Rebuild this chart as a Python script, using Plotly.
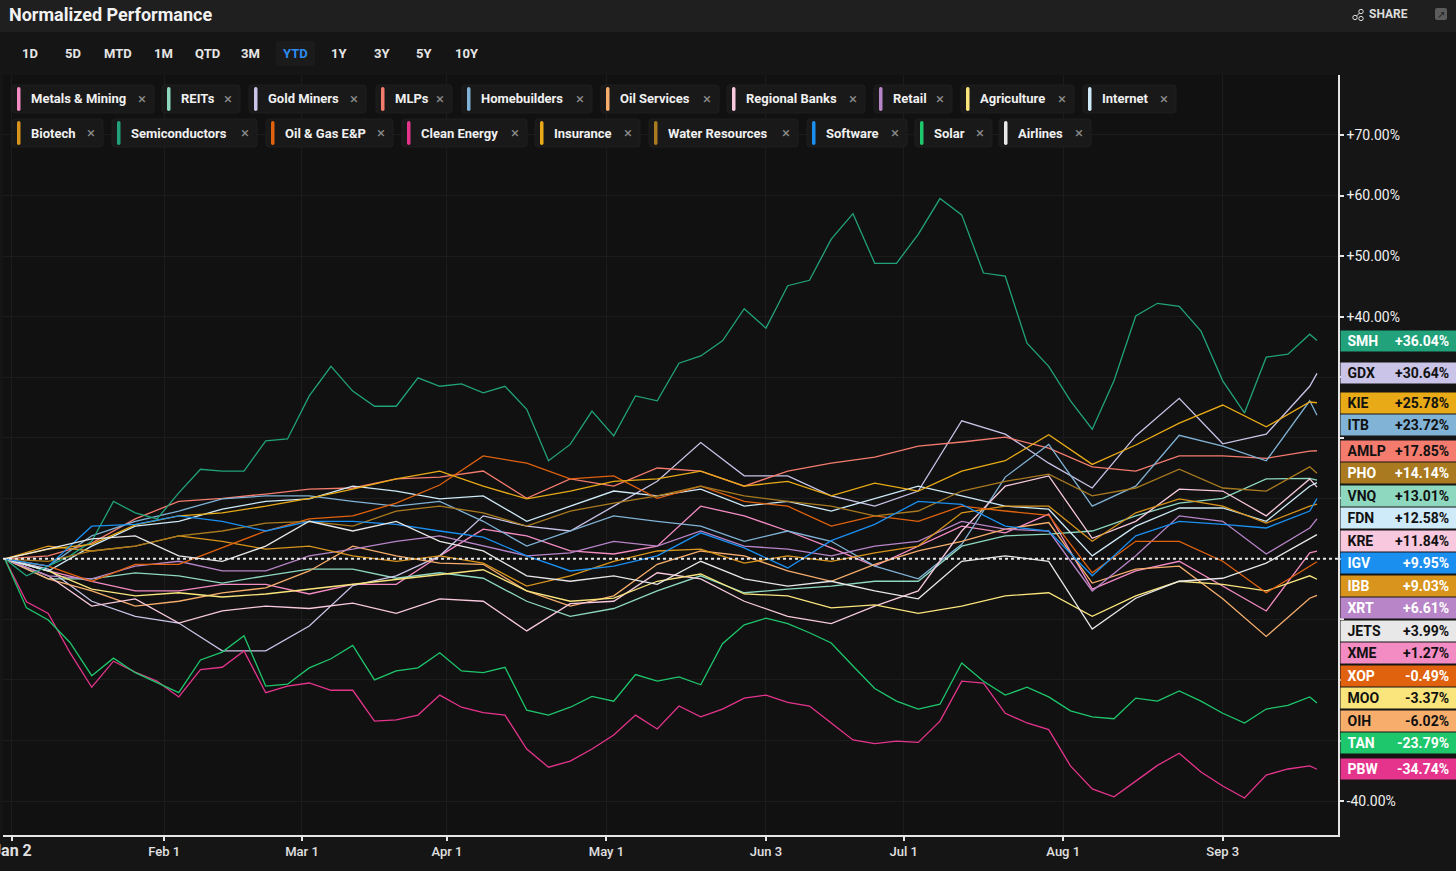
import plotly.graph_objects as go

# ---------------- data ----------------
# trading-day index (0 = Jan 2, -1 = Dec 29 base)
days_fine = list(range(-1, 180, 3)) + [180]
days_coarse = list(range(-1, 180, 6)) + [180]

tick_days = [0, 21, 40, 60, 82, 104, 123, 145, 167]
tick_labels = ["Jan 2", "Feb 1", "Mar 1", "Apr 1", "May 1", "Jun 3", "Jul 1", "Aug 1", "Sep 3"]
y_ticks = [-40, -30, -20, -10, 0, 10, 20, 30, 40, 50, 60, 70]

smh = [0, -2.8, -1.2, 0.5, 2.9, 9.5, 7.6, 6.6, 10.9, 14.8, 14.5, 14.5, 19.5, 19.8, 26.9, 31.8,
       27.7, 25.2, 25.2, 29.9, 28.5, 28.9, 27.4, 28.5, 24.7, 16.2, 18.9, 24.4, 20.3, 26.9, 26.1,
       32.3, 33.5, 36.0, 41.3, 38.1, 45.1, 46.0, 52.8, 57.0, 48.8, 48.8, 53.6, 59.5, 56.8, 47.2,
       46.7, 35.6, 31.8, 26.1, 21.4, 29.4, 40.1, 42.2, 41.7, 37.6, 29.4, 24.1, 33.3, 33.8, 37.1, 36.04]
pbw = [0, -7.1, -9.0, -15.5, -21.2, -16.9, -18.7, -20.2, -22.8, -18.3, -17.9, -15.2, -22.1, -21.0,
       -20.5, -21.7, -21.7, -26.8, -26.6, -25.8, -22.5, -24.5, -25.4, -25.8, -31.4, -34.4, -33.4,
       -31.4, -29.1, -25.8, -28.1, -24.3, -26.1, -24.8, -23.0, -22.5, -23.7, -24.3, -27.1, -29.9,
       -30.5, -30.1, -30.3, -26.8, -20.2, -20.5, -25.5, -27.1, -28.2, -34.2, -38.0, -39.3, -36.7,
       -34.1, -32.1, -35.2, -37.5, -39.5, -35.7, -34.7, -34.2, -34.74]
tan = [0, -8.1, -10.1, -13.8, -19.3, -16.4, -18.8, -20.5, -22.1, -16.7, -15.4, -12.7, -21.0, -20.7,
       -18.0, -16.5, -14.3, -20.0, -18.5, -18.0, -15.5, -18.5, -18.8, -17.9, -25.0, -25.8, -24.5,
       -22.7, -23.5, -19.1, -20.2, -19.5, -20.8, -14.0, -10.9, -9.8, -10.7, -12.2, -13.9, -17.7,
       -21.4, -23.5, -24.8, -24.0, -17.2, -20.2, -22.5, -21.2, -22.8, -25.1, -26.1, -26.4, -23.0,
       -23.5, -21.8, -23.5, -25.5, -27.1, -24.8, -24.2, -22.8, -23.79]

gdx = [0, -1.7, -7.0, -9.5, -10.6, -15.2, -15.2, -11.1, -4.4, -2.8, 0.5, 7.1, 5.4, 4.6, 8.7, 12.8,
       19.2, 13.7, 13.7, 10.4, 8.7, 11.2, 22.8, 20.6, 15.8, 11.7, 20.3, 26.5, 19.0, 20.6, 28.5, 30.64]
kie = [0, 1.6, 2.4, 5.6, 7.1, 7.6, 8.7, 10.0, 11.5, 13.2, 14.5, 12.0, 9.9, 11.2, 12.8, 13.2,
       14.5, 12.0, 12.8, 10.4, 12.5, 11.2, 14.5, 16.2, 20.5, 15.6, 18.8, 22.4, 25.4, 21.8, 25.9, 25.78]
itb = [0, -1.2, 3.8, 6.2, 7.9, 9.9, 10.4, 10.4, 9.5, 8.7, 9.5, 6.2, 2.1, 4.6, 7.1, 6.2,
       5.4, 2.9, 4.6, 2.9, -1.2, -3.3, 2.4, 13.5, 18.9, 8.7, 12.0, 20.4, 18.6, 16.2, 26.1, 23.72]
amlp = [0, 0.5, 2.6, 6.6, 9.5, 10.0, 10.7, 11.5, 11.7, 13.2, 13.5, 14.5, 10.0, 13.2, 12.0, 15.0,
        14.5, 12.0, 14.5, 15.8, 16.8, 18.6, 19.3, 20.1, 18.3, 15.2, 14.5, 17.0, 17.0, 16.6, 17.8, 17.85]
pho = [0, -0.4, 1.3, 2.1, 3.8, 4.6, 5.9, 6.2, 5.4, 7.9, 8.7, 7.6, 5.4, 7.9, 9.2, 10.4,
       12.0, 10.4, 9.5, 8.7, 7.1, 7.9, 11.2, 12.8, 14.0, 10.4, 11.7, 14.8, 11.7, 11.2, 15.2, 14.14]
vnq = [0, -3.3, -3.3, -2.3, -2.8, -4.0, -2.8, -1.7, -1.7, -3.2, -2.3, -3.2, -7.0, -9.5, -8.2, -5.3,
       -2.8, -5.6, -5.0, -4.5, -3.7, -3.7, 2.1, 3.8, 4.1, 4.6, 7.1, 9.2, 10.0, 13.2, 13.3, 13.01]
fdn = [0, -2.0, 2.1, 5.4, 6.2, 8.2, 9.5, 9.9, 12.0, 11.2, 9.9, 10.4, 6.2, 8.7, 11.2, 10.4,
       11.5, 8.7, 9.5, 7.9, 10.0, 12.0, 10.4, 8.7, 8.2, 0.5, 5.4, 8.4, 8.4, 6.2, 12.0, 12.58]
kre = [0, -2.8, -7.8, -6.6, -10.6, -8.6, -7.8, -8.2, -7.3, -9.0, -6.6, -7.0, -11.9, -7.4, -7.0, -2.3,
       -3.3, -7.0, -9.5, -10.7, -7.8, -5.3, 4.6, 12.0, 13.7, 3.4, 6.2, 11.5, 11.2, 7.1, 13.2, 11.84]
igv = [0, -1.2, 5.4, 5.7, 7.1, 6.2, 4.6, 6.2, 6.2, 5.7, 4.6, 3.6, 0.5, -2.0, -1.2, 0.5,
       4.3, 1.8, -1.5, 3.0, 5.7, 9.5, 9.0, 5.4, 4.6, -2.8, 3.8, 6.2, 5.7, 5.1, 7.9, 9.95]
ibb = [0, 2.1, 1.3, 2.1, 3.8, 2.9, 1.6, 2.1, 0.5, -0.4, 0.5, -0.7, -4.5, -2.8, -0.4, 1.3,
       1.6, -0.7, 0.5, -0.4, 1.0, 2.1, 7.6, 8.7, 8.7, 2.9, 7.6, 9.9, 8.7, 5.9, 8.7, 9.03]
xrt = [0, -2.8, -3.3, -1.2, -0.4, -2.0, -2.0, 0.5, 1.6, 2.9, 3.8, 2.1, 0.5, 1.0, 2.9, 2.1,
       4.6, 2.1, 1.6, 0.5, 2.1, 2.9, 6.2, 4.9, 4.6, -5.3, 0.5, 7.1, 6.2, 0.8, 5.1, 6.61]
jets = [0, 1.6, 3.3, 3.8, 0.5, -0.4, 2.1, 6.2, 4.6, 6.2, 2.9, 1.3, -2.8, -3.7, -2.8, -4.2,
        -0.4, -3.3, -4.5, -3.7, -5.3, -6.6, -0.4, 0.5, -0.4, -11.6, -6.5, -3.7, -3.2, -0.7, 3.4, 3.99]
xme = [0, -2.0, -3.7, -5.3, -5.3, -4.2, -4.2, -5.8, -4.2, -4.2, 0.5, 4.9, 3.8, 1.3, 0.8, 2.1,
       8.7, 7.1, 4.6, 1.8, -1.2, 2.1, 5.4, 4.3, 7.4, -5.0, -2.0, -0.4, -4.5, -8.6, 1.0, 1.27]
xop = [0, -1.2, -3.7, -0.9, -0.9, 1.8, 4.6, 6.6, 7.1, 9.2, 12.2, 17.0, 15.8, 13.2, 13.7, 10.0,
       12.0, 9.5, 8.7, 5.4, 7.1, 6.2, 8.7, 7.9, 7.2, -2.3, 2.9, 2.9, -0.4, -5.6, -1.2, -0.49]
moo = [0, -2.0, -5.0, -6.1, -5.6, -6.3, -5.8, -5.0, -4.2, -3.3, -2.5, -1.8, -5.3, -7.0, -6.5, -3.7,
       -2.5, -5.8, -6.1, -8.1, -7.6, -9.0, -7.8, -6.1, -5.6, -9.5, -6.1, -3.7, -4.2, -5.3, -2.8, -3.37]
oih = [0, -3.3, -5.3, -7.8, -7.0, -5.6, -4.8, -2.0, 2.1, 0.5, -0.7, -0.9, -5.3, -7.8, -6.1, -0.9,
       1.3, 0.5, -2.0, -3.7, -0.9, 1.3, 2.9, 4.9, 6.0, -4.0, -1.7, -1.2, -6.6, -12.8, -6.5, -6.02]

# ticker, chip label, colour, badge text colour, days, values
series = [
    ("XME", "Metals & Mining", "#f48cc4", "#111111", days_coarse, xme),
    ("VNQ", "REITs", "#8ed8c0", "#111111", days_coarse, vnq),
    ("GDX", "Gold Miners", "#c9c4e8", "#111111", days_coarse, gdx),
    ("AMLP", "MLPs", "#f47c6e", "#111111", days_coarse, amlp),
    ("ITB", "Homebuilders", "#80b3d6", "#111111", days_coarse, itb),
    ("OIH", "Oil Services", "#f7ae6d", "#111111", days_coarse, oih),
    ("KRE", "Regional Banks", "#f8c9de", "#111111", days_coarse, kre),
    ("XRT", "Retail", "#b885c8", "#ffffff", days_coarse, xrt),
    ("MOO", "Agriculture", "#fae57c", "#111111", days_coarse, moo),
    ("FDN", "Internet", "#cfeaf8", "#111111", days_coarse, fdn),
    ("IBB", "Biotech", "#d8941c", "#ffffff", days_coarse, ibb),
    ("SMH", "Semiconductors", "#21a27b", "#ffffff", days_fine, smh),
    ("XOP", "Oil & Gas E&P", "#e0620f", "#ffffff", days_coarse, xop),
    ("PBW", "Clean Energy", "#e5348c", "#ffffff", days_fine, pbw),
    ("KIE", "Insurance", "#e8aa16", "#111111", days_coarse, kie),
    ("PHO", "Water Resources", "#a97a1f", "#ffffff", days_coarse, pho),
    ("IGV", "Software", "#1b8ff0", "#ffffff", days_coarse, igv),
    ("TAN", "Solar", "#1ec66c", "#ffffff", days_fine, tan),
    ("JETS", "Airlines", "#e8e8e8", "#111111", days_coarse, jets),
]

# ---------------- layout geometry (pixels) ----------------
W, H = 1456, 871
PL, PR, PT, PB = 3, 1338, 75, 835
XR = [-1.24, 182.9]
YR = [-45.6, 79.9]
FONT = "Roboto, Inter, Arial, sans-serif"
PXPER = (PB - PT) / (YR[1] - YR[0])


def px(x):
    return (x - PL) / (PR - PL)


def py(y):
    return (PB - y) / (PB - PT)


def vpix(v):
    return PB - (v - YR[0]) * PXPER


def rrect(x0, y0, x1, y1, r):
    rx, ry = r / (PR - PL), r / (PB - PT)
    a0, a1, b0, b1 = px(x0), px(x1), py(y0), py(y1)
    return (f"M {a0+rx},{b0} L {a1-rx},{b0} Q {a1},{b0} {a1},{b0-ry} L {a1},{b1+ry} "
            f"Q {a1},{b1} {a1-rx},{b1} L {a0+rx},{b1} Q {a0},{b1} {a0},{b1+ry} "
            f"L {a0},{b0-ry} Q {a0},{b0} {a0+rx},{b0} Z")


fig = go.Figure()
for tk, lab, col, tcol, dd, vals in series:
    fig.add_trace(go.Scatter(x=dd, y=vals, mode="lines", name=tk,
                             line=dict(color=col, width=1.3), hoverinfo="skip",
                             showlegend=False))

shapes = []
annotations = []

# title bar
shapes.append(dict(type="rect", xref="paper", yref="paper", x0=px(0), x1=px(W), y0=py(0), y1=py(32),
                   fillcolor="#1f1f1f", line=dict(width=0), layer="below"))
annotations.append(dict(xref="paper", yref="paper", x=px(7), y=py(14), xanchor="left", yanchor="middle",
                        text="<b>Normalized Performance</b>", showarrow=False,
                        font=dict(family=FONT, size=18, color="#f2f2f2")))
annotations.append(dict(xref="paper", yref="paper", x=px(1410), y=py(14), xanchor="right", yanchor="middle",
                        text="<b>SHARE</b>", showarrow=False,
                        font=dict(family=FONT, size=12, color="#dcdcdc")))
# share icon
for cx, cy in [(1355, 17.5), (1361, 11.5), (1361, 18.5)]:
    shapes.append(dict(type="circle", xref="paper", yref="paper", x0=px(cx - 2.2), x1=px(cx + 2.2),
                       y0=py(cy - 2.2), y1=py(cy + 2.2), line=dict(color="#dcdcdc", width=1)))
shapes.append(dict(type="line", xref="paper", yref="paper", x0=px(1356.5), x1=px(1359.5), y0=py(16), y1=py(13),
                   line=dict(color="#dcdcdc", width=1)))
# expand icon
shapes.append(dict(type="path", xref="paper", yref="paper", path=rrect(1435, 8, 1447, 20, 2),
                   fillcolor="#5c5c5c", line=dict(width=0)))
annotations.append(dict(xref="paper", yref="paper", x=px(1441), y=py(14), xanchor="center", yanchor="middle",
                        text="↗", showarrow=False, font=dict(family="DejaVu Sans", size=10, color="#1a1a1a")))

# range buttons
ranges = [("1D", 30), ("5D", 73), ("MTD", 118), ("1M", 163), ("QTD", 207), ("3M", 251), ("YTD", 295),
          ("1Y", 339), ("3Y", 382), ("5Y", 424), ("10Y", 467)]
shapes.append(dict(type="path", xref="paper", yref="paper", path=rrect(276, 41, 315, 66, 3),
                   fillcolor="#1b1b1b", line=dict(width=0)))
for lab, cx in ranges:
    annotations.append(dict(xref="paper", yref="paper", x=px(cx), y=py(54), xanchor="center", yanchor="middle",
                            text=f"<b>{lab}</b>", showarrow=False,
                            font=dict(family=FONT, size=13, color="#2d8cf0" if lab == "YTD" else "#e6e6e6")))

# legend chips: (label, bar x, close-mark x, row y)
chip_pos = [
    ("Metals & Mining", 17, 142, 99), ("REITs", 167, 228, 99), ("Gold Miners", 254, 354, 99),
    ("MLPs", 381, 440, 99), ("Homebuilders", 467, 580, 99), ("Oil Services", 606, 707, 99),
    ("Regional Banks", 732, 853, 99), ("Retail", 879, 940, 99), ("Agriculture", 966, 1062, 99),
    ("Internet", 1088, 1164, 99),
    ("Biotech", 17, 91, 133), ("Semiconductors", 117, 245, 133), ("Oil & Gas E&P", 271, 381, 133),
    ("Clean Energy", 407, 515, 133), ("Insurance", 540, 628, 133), ("Water Resources", 654, 786, 133),
    ("Software", 812, 895, 133), ("Solar", 920, 980, 133), ("Airlines", 1004, 1079, 133),
]
col_of = {s[1]: s[2] for s in series}
for lab, bx, xx, ry in chip_pos:
    shapes.append(dict(type="path", xref="paper", yref="paper", path=rrect(bx - 5, ry - 14, xx + 12, ry + 14, 3),
                       fillcolor="#191919", line=dict(color="#1e1e1e", width=1)))
    shapes.append(dict(type="path", xref="paper", yref="paper", path=rrect(bx, ry - 12, bx + 3.5, ry + 12, 1.7),
                       fillcolor=col_of[lab], line=dict(width=0)))
    annotations.append(dict(xref="paper", yref="paper", x=px(bx + 12), y=py(ry), xanchor="left", yanchor="middle",
                            text=f"<b>{lab}</b>", showarrow=False,
                            font=dict(family=FONT, size=13, color="#f0f0f0")))
    annotations.append(dict(xref="paper", yref="paper", x=px(xx), y=py(ry), xanchor="center", yanchor="middle",
                            text="×", showarrow=False,
                            font=dict(family=FONT, size=15, color="#8a8a8a")))

# zero dotted line
shapes.append(dict(type="line", xref="paper", yref="y", x0=0, x1=px(1395), y0=0, y1=0,
                   line=dict(color="#e8e8e8", width=2, dash="dot"), layer="above"))

# right badges (push-down to avoid overlap)
gap = 22.5 / PXPER
order = sorted(series, key=lambda s: -s[5][-1])
prev = None
badge_pix = []
for tk, lab, col, tcol, dd, vals in order:
    v = vals[-1]
    ypos = v if prev is None or v < prev - gap else prev - gap
    prev = ypos
    badge_pix.append(vpix(ypos))
    annotations.append(dict(xref="paper", yref="y", x=1, xshift=2, y=ypos, xanchor="left", yanchor="middle",
                            text="\u00a0" + tk, align="left", showarrow=False, width=110, height=14,
                            borderpad=3, bgcolor=col,
                            font=dict(family=FONT, size=14, color=tcol, weight="bold")))
    annotations.append(dict(xref="paper", yref="y", x=1, xshift=113, y=ypos, xanchor="right", yanchor="middle",
                            text=f"{v:+.2f}%", showarrow=False,
                            font=dict(family=FONT, size=14, color=tcol, weight="bold")))

xt = ["<b><span style='font-size:16px'>" + tick_labels[0] + "</span></b>"] + tick_labels[1:]
# tick labels hidden behind a badge are left blank (they are covered in the reference too)
yt = []
for v in y_ticks:
    covered = any(abs(vpix(v) - b) < 13 for b in badge_pix)
    yt.append("" if covered else ("0.00%" if v == 0 else f"{v:+.2f}%"))

fig.update_layout(
    width=W, height=H,
    margin=dict(l=PL, r=W - PR, t=PT, b=H - PB, pad=0, autoexpand=False),
    paper_bgcolor="#151515", plot_bgcolor="#111111",
    font=dict(family=FONT, color="#e6e6e6"),
    shapes=shapes, annotations=annotations,
    xaxis=dict(range=XR, tickvals=tick_days, ticktext=xt, showgrid=True, gridcolor="#1c1c1c",
               zeroline=False, showline=True, linecolor="#e6e6e6", linewidth=1.5,
               ticks="outside", ticklen=4, tickcolor="#e6e6e6", tickwidth=1.5,
               ticklabeloverflow="allow", automargin=False,
               tickfont=dict(family=FONT, size=13, color="#e0e0e0", weight=500)),
    yaxis=dict(range=YR, side="right", tickvals=y_ticks, ticktext=yt, showgrid=True, gridcolor="#1c1c1c",
               zeroline=False, showline=True, linecolor="#e6e6e6", linewidth=1.5,
               ticks="outside", ticklen=4, tickcolor="#e6e6e6", tickwidth=1.5, automargin=False,
               tickfont=dict(family=FONT, size=14, color="#f0f0f0")),
)

fig.write_html("out.html", config={"displayModeBar": False},
               post_script="document.body.style.margin='0';document.body.style.background='#151515';")
